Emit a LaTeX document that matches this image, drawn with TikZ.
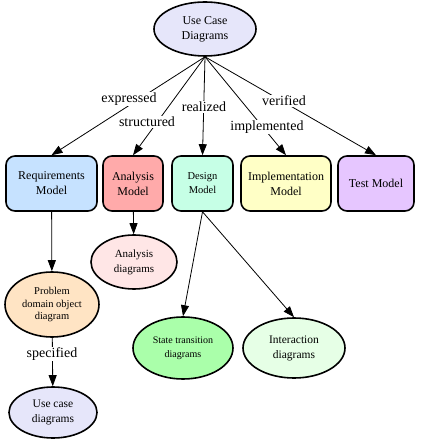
\documentclass[tikz,border=0pt]{standalone}
\usepackage{fontspec}
\setmainfont{Liberation Serif}
\usetikzlibrary{shapes.geometric,arrows.meta}
\definecolor{lavender}{RGB}{230,230,250}
\definecolor{reqblue}{RGB}{198,226,255}
\definecolor{anared}{RGB}{255,170,170}
\definecolor{desmint}{RGB}{198,255,230}
\definecolor{impyellow}{RGB}{255,255,198}
\definecolor{tstpurple}{RGB}{230,198,255}
\definecolor{anapink}{RGB}{255,230,230}
\definecolor{pdobisque}{RGB}{255,228,196}
\definecolor{stgreen}{RGB}{170,255,170}
\definecolor{intgreen}{RGB}{230,255,230}

\begin{document}
\begin{tikzpicture}[x=1pt,y=-1pt,
  box/.style={draw,line width=1.6pt,rounded corners=9pt,align=center,inner sep=0pt,
    minimum height=55pt,font=\fontsize{12}{15}\selectfont},
  oval/.style={draw,ellipse,line width=1.6pt,align=center,inner sep=0pt,
    font=\fontsize{11.5}{15}\selectfont},
  link/.style={line width=0.8pt,-{Triangle[length=11pt,width=8pt]}},
  lbl/.style={fill=white,inner sep=1pt,font=\fontsize{14}{16}\selectfont}]
  \useasboundingbox (0,0) rectangle (420,443);

  % top of the tree
  \node[oval,fill=lavender,minimum width=102pt,minimum height=54pt,
    font=\fontsize{12}{15}\selectfont] (uc) at (205,29) {Use Case\\Diagrams};

  % models
  \node[box,fill=reqblue,minimum width=91pt] (req) at (51.5,183.5) {Requirements\\Model};
  \node[box,fill=anared,minimum width=60pt] (ana) at (133,183.5) {Analysis\\Model};
  \node[box,fill=desmint,minimum width=61pt,font=\fontsize{10.5}{14}\selectfont] (des)
    at (202.5,183.5) {Design\\Model};
  \node[box,fill=impyellow,minimum width=90pt] (imp) at (286,183.5) {Implementation\\Model};
  \node[box,fill=tstpurple,minimum width=76pt] (tst) at (376,183.5) {Test Model};

  % diagrams below the models
  \node[oval,fill=anapink,minimum width=86pt,minimum height=54pt,
    font=\fontsize{11}{15}\selectfont] (anad) at (134,262) {Analysis\\diagrams};
  \node[oval,fill=pdobisque,minimum width=94pt,minimum height=65pt,
    font=\fontsize{10.5}{12.5}\selectfont] (pdo) at (52,304.5)
    {Problem\\domain object\\diagram};
  \node[oval,fill=lavender,minimum width=88pt,minimum height=51pt] (ucd) at (53,412.5)
    {Use case\\diagrams};
  \node[oval,fill=stgreen,minimum width=100pt,minimum height=62pt,
    font=\fontsize{10}{14}\selectfont] (st) at (183,348) {State transition\\diagrams};
  \node[oval,fill=intgreen,minimum width=102pt,minimum height=60pt] (inter) at (294,348)
    {Interaction\\diagrams};

  % connectors
  \foreach \m in {req,ana,des,imp,tst}
    \draw[link] (uc.south) -- (\m.north);
  \draw[link] (req) -- (pdo);
  \draw[link] (ana) -- (anad);
  \draw[link] (pdo) -- (ucd);
  \draw[link] (des.south) -- (st.north);
  \draw[link] (des.south) -- (inter.north);

  % edge labels
  \node[lbl] (lexp) at (129,99) {expressed};
  \node[lbl] (lstr) at (147,122) {structured};
  \node[lbl] (lrea) at (204,107) {realized};
  \node[lbl] (limp) at (267,127) {implemented};
  \node[lbl] (lver) at (284,101) {verified};
  \node[lbl] (lspe) at (52,354) {specified};
\end{tikzpicture}
\end{document}
